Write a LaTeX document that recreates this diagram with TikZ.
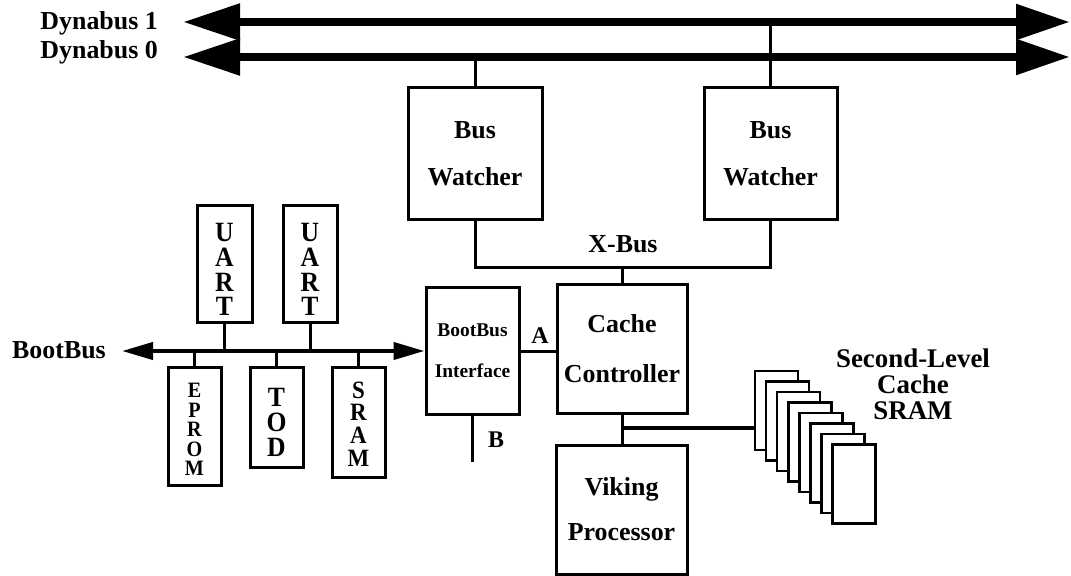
\documentclass[tikz,border=0pt]{standalone}
\usepackage{fontspec}
\setmainfont{Liberation Serif}
\newfontfamily\narrowserif{Liberation Serif}[FakeStretch=0.92]
\usetikzlibrary{arrows.meta}
\tikzset{
  box/.style={draw, line width=3bp, inner sep=0pt, fill=white, align=center},
  bw/.style={box, font=\fontsize{26}{47}\selectfont\bfseries},
  lbl/.style={inner sep=0pt, font=\fontsize{26}{30}\selectfont\bfseries},
  conn/.style={line width=3bp},
  vt/.style 2 args={inner sep=0pt, align=center, font=\narrowserif\bfseries\fontsize{#1}{#2}\selectfont},
  card/.style={draw, fill=white, line width=2.5bp, minimum width=43bp, minimum height=79bp, inner sep=0pt},
  dyn/.style={line width=8.5bp, {Triangle[length=57bp,width=35bp]}-{Triangle[length=54bp,width=34bp]}},
  bbus/.style={line width=4bp, {Triangle[length=31bp,width=17bp]}-{Triangle[length=31bp,width=17bp]}}
}
\begin{document}
\begin{tikzpicture}[x=1bp,y=-1bp]
\useasboundingbox (0,0) rectangle (1071,576);

% Dynabuses
\coordinate (d1l) at (183,22);
\coordinate (d1r) at (1070,22);
\coordinate (d0l) at (183,57);
\coordinate (d0r) at (1070,57);
\draw[dyn] (d1l) -- (d1r);
\draw[dyn] (d0l) -- (d0r);
\node[lbl, anchor=base east] (dl1) at (158,30) {Dynabus 1};
\node[lbl, anchor=base east] (dl0) at (158,59) {Dynabus 0};

% Bus watchers
\node[bw, minimum width=134bp, minimum height=131bp] (bw1) at (475,153.5) {Bus\\Watcher};
\node[bw, minimum width=133bp, minimum height=131bp] (bw2) at (770.5,153.5) {Bus\\Watcher};
\draw[conn] (bw1.north) -- (bw1.north |- d0l);
\draw[conn] (bw2.north) -- (bw2.north |- d1l);

% X-Bus
\coordinate (xb) at (622,268);
\draw[conn] (bw1.south) -- (bw1.south |- xb) -- (bw2.south |- xb) -- (bw2.south);
\node[lbl, anchor=base] (xbl) at (623,253) {X-Bus};

% Cache controller
\node[box, font=\fontsize{26}{50}\selectfont\bfseries, minimum width=130bp, minimum height=128bp] (cc) at (622,349) {Cache\\Controller};
\draw[conn] (xb) -- (cc.north);

% BootBus interface
\node[box, font=\fontsize{19.5}{41}\selectfont\bfseries, minimum width=93bp, minimum height=126bp] (bbi) at (472.5,351) {BootBus\\Interface};
\draw[conn] (bbi.east) -- (cc.west |- bbi.east);
\node[lbl, font=\fontsize{24}{28}\selectfont\bfseries, anchor=base] (la) at (540,343) {A};
\coordinate (bend) at (472.5,462);
\draw[conn] (bbi.south) -- (bend);
\node[lbl, font=\fontsize{24}{28}\selectfont\bfseries, anchor=base] (lb) at (496,447) {B};

% Viking processor
\node[box, font=\fontsize{26}{45}\selectfont\bfseries, minimum width=131bp, minimum height=129bp] (vp) at (621.5,509.5) {Viking\\Processor};
\draw[conn] (cc.south) -- (cc.south |- vp.north);

% Second-level cache SRAM
\foreach \i in {0,...,7} {
  \node[card] (card\i) at ({776.5+11.1*\i},{410.5+10.5*\i}) {};
}
\coordinate (jn) at (622,428);
\draw[line width=4.5bp] (jn) -- (jn -| card0.west);
\node[lbl, font=\fontsize{27}{26}\selectfont\bfseries, align=center] (sl) at (913,384) {Second-Level\\Cache\\SRAM};

% BootBus
\coordinate (bbl) at (122,351);
\draw[bbus] (bbl) -- (bbi.west);
\node[lbl, anchor=base west] (bbt) at (12,358) {BootBus};

\node[box, minimum width=55bp, minimum height=116bp] (u1) at (224.5,264) {};
\node[box, minimum width=54bp, minimum height=116bp] (u2) at (310,264) {};
\node[box, minimum width=53bp, minimum height=118bp] (ep) at (194.5,426) {};
\node[box, minimum width=53bp, minimum height=100bp] (td) at (276.5,417) {};
\node[box, minimum width=53bp, minimum height=110bp] (sr) at (358.5,422) {};

\node[vt={28}{25}] (u1t) at (224.5,269.5) {U\\A\\R\\T};
\node[vt={28}{25}] (u2t) at (310,269.5) {U\\A\\R\\T};
\node[vt={22}{19.5}] (ept) at (194.5,429.5) {E\\P\\R\\O\\M};
\node[vt={28}{25}] (tdt) at (276.5,422) {T\\O\\D};
\node[vt={25}{22.7}] (srt) at (358.5,424) {S\\R\\A\\M};

\draw[conn] (u1.south) -- (u1.south |- bbl);
\draw[conn] (u2.south) -- (u2.south |- bbl);
\draw[conn] (ep.north) -- (ep.north |- bbl);
\draw[conn] (td.north) -- (td.north |- bbl);
\draw[conn] (sr.north) -- (sr.north |- bbl);
\end{tikzpicture}
\end{document}
